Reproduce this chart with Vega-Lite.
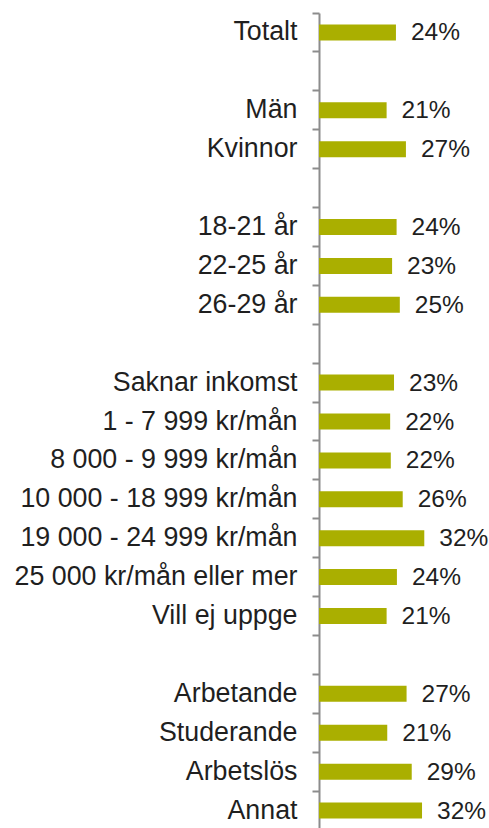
{
  "$schema": "https://vega.github.io/schema/vega-lite/v6.json",
  "autosize": {"type": "none"},
  "padding": {"left": 319, "top": 13, "right": 0, "bottom": 0},
  "width": 170,
  "height": 817,
  "background": "#ffffff",
  "config": {"view": {"stroke": null}},
  "data": {
    "values": [
      {"group": "Totalt", "pct": 23.9, "txt": "24%"},
      {"group": "Män", "pct": 21.0, "txt": "21%"},
      {"group": "Kvinnor", "pct": 27.0, "txt": "27%"},
      {"group": "18-21 år", "pct": 24.1, "txt": "24%"},
      {"group": "22-25 år", "pct": 22.7, "txt": "23%"},
      {"group": "26-29 år", "pct": 25.1, "txt": "25%"},
      {"group": "Saknar inkomst", "pct": 23.3, "txt": "23%"},
      {"group": "1 - 7 999 kr/mån", "pct": 22.1, "txt": "22%"},
      {"group": "8 000 - 9 999 kr/mån", "pct": 22.3, "txt": "22%"},
      {"group": "10 000 - 18 999 kr/mån", "pct": 26.0, "txt": "26%"},
      {"group": "19 000 - 24 999 kr/mån", "pct": 32.7, "txt": "32%"},
      {"group": "25 000 kr/mån eller mer", "pct": 24.2, "txt": "24%"},
      {"group": "Vill ej uppge", "pct": 21.0, "txt": "21%"},
      {"group": "Arbetande", "pct": 27.2, "txt": "27%"},
      {"group": "Studerande", "pct": 21.2, "txt": "21%"},
      {"group": "Arbetslös", "pct": 28.8, "txt": "29%"},
      {"group": "Annat", "pct": 32.0, "txt": "32%"}
    ]
  },
  "layer": [
    {
      "mark": {"type": "bar", "height": 16, "color": "#aaaf00"},
      "encoding": {
        "y": {
          "field": "group",
          "type": "nominal",
          "sort": null,
          "scale": {
            "domain": ["Totalt", " ", "Män", "Kvinnor", "  ", "18-21 år", "22-25 år", "26-29 år", "   ", "Saknar inkomst", "1 - 7 999 kr/mån", "8 000 - 9 999 kr/mån", "10 000 - 18 999 kr/mån", "19 000 - 24 999 kr/mån", "25 000 kr/mån eller mer", "Vill ej uppge", "    ", "Arbetande", "Studerande", "Arbetslös", "Annat"],
            "paddingInner": 0,
            "paddingOuter": 0
          },
          "axis": {
            "title": null,
            "bandPosition": 0,
            "domainColor": "#8c8c8c",
            "domainWidth": 2,
            "tickColor": "#8c8c8c",
            "tickWidth": 2,
            "tickSize": 7,
            "labelPadding": 15,
            "labelFont": "Liberation Sans",
            "labelFontSize": 26.8,
            "labelColor": "#1f1f1f",
            "labelLimit": 400
          }
        },
        "x": {
          "field": "pct",
          "type": "quantitative",
          "scale": {"domain": [0, 52.8], "nice": false},
          "axis": null
        }
      }
    },
    {
      "mark": {"type": "text", "align": "left", "baseline": "middle", "dx": 15, "dy": 1, "font": "Liberation Sans", "fontSize": 24.5, "color": "#1f1f1f"},
      "encoding": {
        "y": {"field": "group", "type": "nominal", "sort": null},
        "x": {"field": "pct", "type": "quantitative"},
        "text": {"field": "txt"}
      }
    }
  ]
}
